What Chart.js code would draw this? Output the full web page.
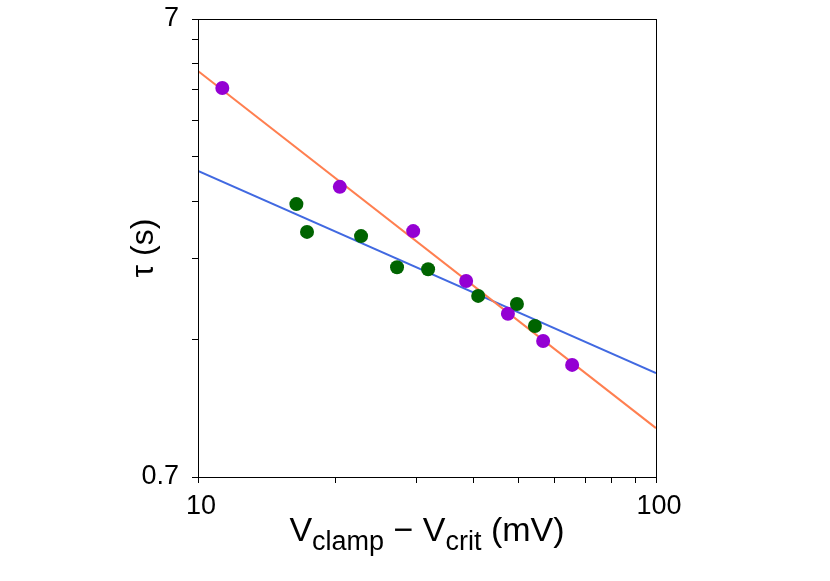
<!DOCTYPE html>
<html>
<head>
<meta charset="utf-8">
<script src="https://cdn.jsdelivr.net/npm/chart.js@4.4.1/dist/chart.umd.min.js"></script>
<style>
  html, body { margin: 0; padding: 0; background: #fff; }
  #wrap { width: 830px; height: 581px; }
</style>
</head>
<body>
<div id="wrap"><canvas id="myChart"></canvas></div>
<script>
// purple series
const purpleX = [11.3, 20.4, 29.5, 38.5, 47.5, 56.7, 65.6];
const purpleY = [4.95, 3.01, 2.41, 1.875, 1.59, 1.387, 1.23];
// green series
const greenX = [16.4, 17.3, 22.7, 27.2, 31.8, 40.9, 49.7, 54.4];
const greenY = [2.76, 2.40, 2.35, 2.01, 1.99, 1.74, 1.67, 1.495];
// fitted lines (values at x = 10 and x = 100)
const fitX = [10, 100];
const orangeFitY = [5.39, 0.895];
const blueFitY = [3.26, 1.18];
// ticks
const xTickValues = [10, 20, 30, 40, 50, 60, 70, 80, 90, 100];
const xTickLabels = ['10', '', '', '', '', '', '', '', '', '100'];
const yTickValues = [0.7, 1.4, 2.1, 2.8, 3.5, 4.2, 4.9, 5.6, 6.3, 7];
const yTickLabels = ['0.7', '', '', '', '', '', '', '', '', '7'];

const FONT = "'Liberation Sans', Arial, Helvetica, sans-serif";

function pts(xs, ys) {
    return xs.map(function(x, i) { return {x: x, y: ys[i]}; });
}

// frame around the plot area plus the x title with subscripts
const framePlugin = {
    id: 'frame',
    afterDraw: function(chart) {
        const ctx = chart.ctx;
        const a = chart.chartArea;
        ctx.save();
        ctx.strokeStyle = '#000';
        ctx.lineWidth = 1;
        ctx.strokeRect(a.left + 0.5, a.top + 0.5, a.right - a.left, a.bottom - a.top);

        const parts = [
            {t: 'V', size: 34, dy: 0},
            {t: 'clamp', size: 27, dy: 9},
            {t: ' \u2212 ', size: 34, dy: 0},
            {t: 'V', size: 34, dy: 0},
            {t: 'crit', size: 27, dy: 9},
            {t: ' (mV)', size: 34, dy: 0}
        ];
        let total = 0;
        parts.forEach(function(p) {
            ctx.font = p.size + 'px ' + FONT;
            p.w = ctx.measureText(p.t).width;
            total += p.w;
        });
        let x = (a.left + a.right) / 2 - total / 2;
        const base = a.bottom + 64;
        ctx.fillStyle = '#000';
        ctx.textBaseline = 'alphabetic';
        ctx.textAlign = 'left';
        parts.forEach(function(p) {
            ctx.font = p.size + 'px ' + FONT;
            ctx.fillText(p.t, x, base + p.dy);
            x += p.w;
        });
        ctx.restore();
    }
};

const config = {
    type: 'scatter',
    data: {
        datasets: [
            {
                type: 'line',
                data: pts(fitX, orangeFitY),
                borderColor: '#FF7F50',
                borderWidth: 2,
                pointRadius: 0,
                order: 3
            },
            {
                type: 'line',
                data: pts(fitX, blueFitY),
                borderColor: '#4169E1',
                borderWidth: 2,
                pointRadius: 0,
                order: 4
            },
            {
                data: pts(greenX, greenY),
                backgroundColor: '#006400',
                borderWidth: 0,
                pointRadius: 7,
                order: 1
            },
            {
                data: pts(purpleX, purpleY),
                backgroundColor: '#9400D3',
                borderWidth: 0,
                pointRadius: 7,
                order: 2
            }
        ]
    },
    options: {
        responsive: true,
        maintainAspectRatio: false,
        animation: false,
        layout: {
            padding: {top: 19, right: 174, left: 0, bottom: 0}
        },
        scales: {
            x: {
                type: 'logarithmic',
                min: 10,
                max: 100,
                afterBuildTicks: function(s) {
                    s.ticks = xTickValues.map(function(v) { return {value: v}; });
                },
                afterFit: function(s) {
                    s.height = 104;
                    s.paddingLeft = 0;
                    s.paddingRight = 0;
                },
                grid: {
                    drawOnChartArea: false,
                    drawTicks: true,
                    tickLength: 6,
                    color: '#000'
                },
                border: {display: true, color: '#000', width: 1},
                ticks: {
                    autoSkip: false,
                    maxRotation: 0,
                    padding: 7,
                    labelOffset: 3,
                    color: '#000',
                    font: {family: FONT, size: 27},
                    callback: function(v, i) { return xTickLabels[i]; }
                },
                title: {display: false}
            },
            y: {
                type: 'logarithmic',
                min: 0.7,
                max: 7,
                afterBuildTicks: function(s) {
                    s.ticks = yTickValues.map(function(v) { return {value: v}; });
                },
                afterFit: function(s) {
                    s.width = 198;
                    s.paddingTop = 0;
                    s.paddingBottom = 0;
                },
                grid: {
                    drawOnChartArea: false,
                    drawTicks: true,
                    tickLength: 6,
                    color: '#000'
                },
                border: {display: true, color: '#000', width: 1},
                ticks: {
                    autoSkip: false,
                    padding: 13,
                    color: '#000',
                    font: {family: FONT, size: 27},
                    callback: function(v, i) { return yTickLabels[i]; }
                },
                title: {
                    display: true,
                    text: '\u03C4 (s)',
                    color: '#000',
                    font: {family: FONT, size: 32},
                    padding: {top: 125, bottom: 0}
                }
            }
        },
        plugins: {
            legend: {display: false},
            tooltip: {enabled: false}
        }
    },
    plugins: [framePlugin]
};

new Chart(document.getElementById('myChart'), config);
</script>
</body>
</html>
